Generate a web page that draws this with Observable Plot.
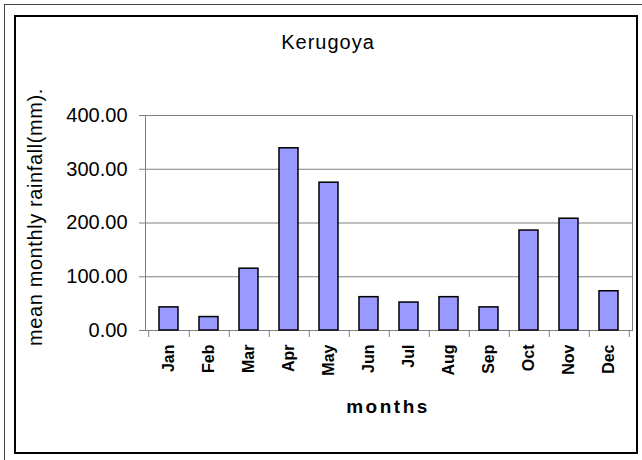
<!DOCTYPE html>
<html>
<head>
<meta charset="utf-8">
<script src="https://cdn.jsdelivr.net/npm/d3@7"></script>
<script src="https://cdn.jsdelivr.net/npm/@observablehq/plot@0.6"></script>
<style>
  html, body { margin: 0; padding: 0; background: #fff; }
  #wrap { position: relative; width: 642px; height: 460px; overflow: hidden; font-family: "Liberation Sans", Arial, sans-serif; color: #000; }
  .outer { position: absolute; left: 4px; top: 4px; width: 660px; height: 480px; border: 1px solid #444; box-sizing: border-box; }
  .inner { position: absolute; left: 14px; top: 15px; width: 624px; height: 439px; border: 2px solid #000; box-sizing: border-box; background: #fff; }
  #chart { position: absolute; left: 0; top: 0; }
  .title { position: absolute; left: 328px; top: 31px; transform: translateX(-50%); font-size: 20px; letter-spacing: 1px; white-space: nowrap; }
  .xlab { position: absolute; left: 388px; top: 396px; transform: translateX(-50%); font-size: 19px; font-weight: bold; letter-spacing: 2.5px; white-space: nowrap; }
  .ylab { position: absolute; left: 35px; top: 217px; transform: translate(-50%, -50%) rotate(-90deg); font-size: 20px; letter-spacing: 0.6px; white-space: nowrap; }
</style>
</head>
<body>
<div id="wrap">
  <div class="outer"></div>
  <div class="inner"></div>
  <div id="chart"></div>
  <div class="title">Kerugoya</div>
  <div class="xlab">months</div>
  <div class="ylab">mean monthly rainfall(mm).</div>
</div>
<script>
const months = ["Jan","Feb","Mar","Apr","May","Jun","Jul","Aug","Sep","Oct","Nov","Dec"];
const rainfall = [43, 25, 115, 339, 275, 62, 52, 62, 43, 186, 208, 73];
const yTicks = [0, 100, 200, 300, 400];
const gridValues = [100, 200, 300];

const data = months.map((m, i) => ({month: m, value: rainfall[i]}));

const W = 642, H = 460, mL = 145, mR = 10, mT = 115, mB = 130;
const step = (W - mL - mR) / months.length;

const chart = Plot.plot({
  width: W,
  height: H,
  marginLeft: mL,
  marginRight: mR,
  marginTop: mT,
  marginBottom: mB,
  style: {background: "transparent", fontFamily: "'Liberation Sans', Arial, sans-serif", color: "#000", overflow: "visible"},
  x: {domain: months, paddingInner: 0.53, paddingOuter: 0.265, label: null},
  y: {domain: [0, 400], label: null},
  marks: [
    Plot.ruleY(gridValues, {stroke: "#808080", strokeWidth: 1}),
    Plot.frame({stroke: "#808080", strokeWidth: 1}),
    Plot.barY(data, {x: "month", y: "value", fill: "#9999FF", stroke: "#000", strokeWidth: 1.5}),
    Plot.axisY({ticks: yTicks, tickFormat: d => d.toFixed(2), tickSize: 6, tickPadding: 12, fontSize: 20, stroke: "#808080", fill: "#000", label: null, style: {letterSpacing: "0.5px"}}),
    Plot.axisX({tickSize: 0, tickRotate: -90, tickPadding: 14, fontSize: 16, fontWeight: "bold", fill: "#000", label: null, style: {letterSpacing: "1px"}}),
    Plot.ruleX(months, {x: d => d, dx: step / 2, y1: 0, y2: -13, stroke: "#808080"}),
    Plot.ruleX([months[0]], {x: d => d, dx: -step / 2, y1: 0, y2: -13, stroke: "#808080"})
  ]
});
document.getElementById("chart").appendChild(chart);
</script>
</body>
</html>
